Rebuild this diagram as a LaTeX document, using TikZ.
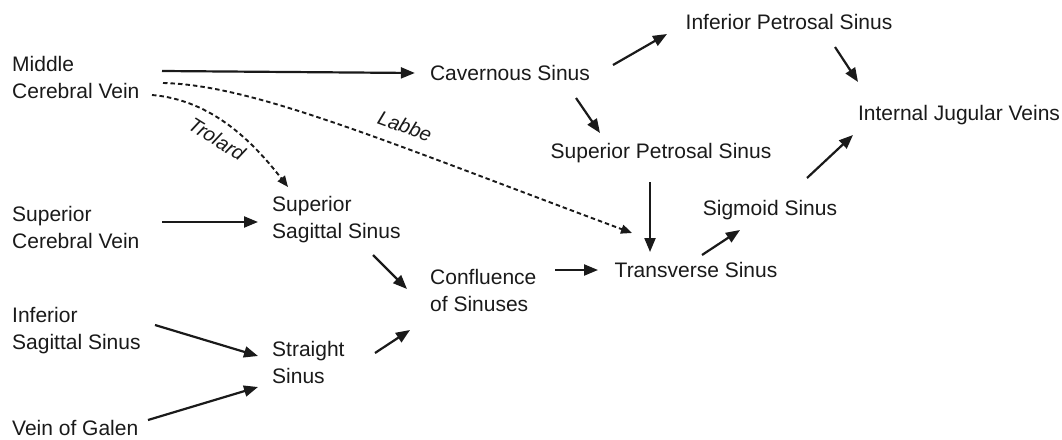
\documentclass[tikz,border=0pt]{standalone}
\usepackage{fontspec}
\setmainfont{Liberation Sans}
\usetikzlibrary{arrows.meta,calc}
\definecolor{ink}{HTML}{1A1A1A}
\begin{document}
\begin{tikzpicture}[x=1pt,y=-1pt,
  lbl/.style={inner sep=0pt,text=ink,font=\fontsize{21}{27}\selectfont,align=left},
  wlbl/.style={lbl,anchor=west},
  clbl/.style={lbl,anchor=center},
  vlabel/.style={inner sep=0pt,text=ink,font=\fontsize{20}{24}\selectfont\itshape},
  arr/.style={draw=ink,line width=2.2pt,-{Triangle[length=14pt,width=11pt]}},
  darr/.style={draw=ink,line width=1.9pt,dash pattern=on 4.5pt off 3pt,-{Triangle[length=11pt,width=9pt]}}]
\useasboundingbox (0,0) rectangle (1062,439);
\fill[white] (0,0) rectangle (1062,439);
% nodes
\node[wlbl] (mcv) at (12,77) {Middle\\Cerebral Vein};
\node[clbl] (cav) at (510,73) {Cavernous Sinus};
\node[clbl] (ips) at (789,22) {Inferior Petrosal Sinus};
\node[clbl] (ijv) at (959,115) {Internal Jugular Veins};
\node[clbl] (sps) at (661,153) {Superior Petrosal Sinus};
\node[clbl] (sig) at (770,210) {Sigmoid Sinus};
\node[clbl] (trs) at (696,270) {Transverse Sinus};
\node[wlbl] (sss) at (272,220) {Superior\\Sagittal Sinus};
\node[wlbl] (scv) at (12,227) {Superior\\Cerebral Vein};
\node[wlbl] (con) at (430,290) {Confluence\\of Sinuses};
\node[wlbl] (isn) at (12,331) {Inferior\\Sagittal Sinus};
\node[wlbl] (str) at (272,362) {Straight\\Sinus};
\node[wlbl] (vog) at (12,428) {Vein of Galen};
% solid connectors
\draw[arr] ($(mcv.west)+(150,-6)$) -- ($(cav.west)+(-15,0)$);
\draw[arr] ($(cav)+(103,-8)$) -- ($(ips)+(-122,12)$);
\draw[arr] ($(ips)+(46,25)$) -- ($(ijv)+(-101,-33)$);
\draw[arr] ($(cav)+(66,25)$) -- ($(sps)+(-61,-20)$);
\draw[arr] ($(sps)+(-11,29)$) -- ($(trs)+(-46,-18)$);
\draw[arr] ($(trs)+(6,-15)$) -- ($(sig)+(-30,20)$);
\draw[arr] ($(sig)+(37,-32)$) -- ($(ijv)+(-106,20)$);
\draw[arr] ($(con.west)+(125,-20)$) -- ($(trs)+(-98,0)$);
\draw[arr] ($(scv.west)+(150,-5)$) -- ($(sss.west)+(-14,2)$);
\draw[arr] ($(sss.west)+(101,35)$) -- ($(con.west)+(-23,-1)$);
\draw[arr] ($(isn.west)+(143,-6)$) -- ($(str.west)+(-14,-6)$);
\draw[arr] ($(vog.west)+(136,-8)$) -- ($(str.west)+(-14,25)$);
\draw[arr] ($(str.west)+(103,-9)$) -- ($(con.west)+(-20,40)$);
% dashed connectors
\draw[darr] ($(mcv.west)+(140,18)$) .. controls +(60,5) and +(-35,-45) .. ($(sss.west)+(16,-33)$);
\draw[darr] ($(mcv.west)+(151,6)$) .. controls +(90,2) and +(-250,-93) .. ($(trs)+(-64,-37)$);
% labels on dashed connectors
\node[vlabel,rotate=-32] (trolard) at (217,139) {Trolard};
\node[vlabel,rotate=-20] (labbe) at (405,126) {Labbe};
\end{tikzpicture}
\end{document}
